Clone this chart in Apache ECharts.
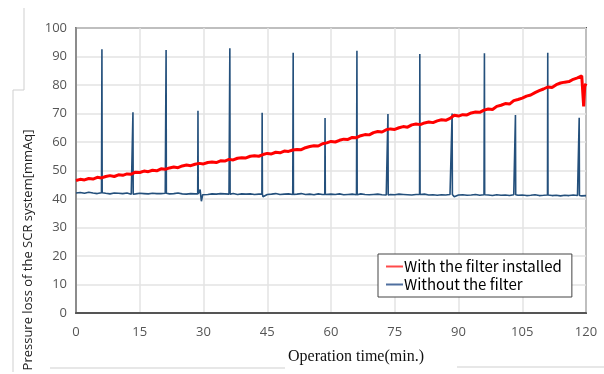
<!DOCTYPE html>
<html>
<head>
<meta charset="utf-8">
<script src="https://cdn.jsdelivr.net/npm/echarts@6/dist/echarts.min.js"></script>
<style>
  html, body { margin: 0; padding: 0; background: #fff; }
  #chart { width: 604px; height: 374px; }
</style>
</head>
<body>
<div id="chart"></div>
<script>
  // x轴刻度 (min.)
  const xTicks = [0, 15, 30, 45, 60, 75, 90, 105, 120]
  const seriesNames = ['With the filter installed', 'Without the filter']

  // 有过滤器: 每分钟一个读数 (0..119)
  const redValues = [
    46.5, 46.9, 46.7, 47.2, 47.0, 47.6, 47.4, 47.9, 48.2, 47.9,
    48.5, 48.3, 48.8, 48.7, 49.4, 49.3, 49.8, 49.6, 50.1, 49.9,
    50.6, 50.4, 50.9, 51.2, 51.0, 51.6, 51.9, 51.7, 52.2, 52.5,
    52.3, 52.8, 53.0, 52.8, 53.4, 53.3, 53.9, 53.7, 54.3, 54.5,
    54.4, 55.0, 55.2, 55.0, 55.6, 56.0, 55.8, 56.4, 56.2, 56.8,
    56.7, 57.2, 57.4, 57.3, 58.0, 58.4, 58.7, 58.6, 59.4, 59.7,
    60.2, 60.0, 60.6, 61.0, 60.9, 61.6, 61.5, 62.2, 62.6, 62.5,
    63.3, 63.7, 63.5, 64.3, 64.6, 64.4, 65.0, 65.4, 65.2, 66.0,
    66.3, 66.1, 66.7, 67.0, 66.8, 67.4, 67.8, 67.6, 68.3, 69.4,
    69.1, 69.6, 69.5, 70.2, 70.5, 70.4, 71.2, 71.6, 71.4, 72.5,
    72.9, 73.5, 73.3, 74.5, 74.9, 75.4, 76.1, 76.5, 77.3, 78.0,
    78.6, 79.3, 79.1, 80.1, 80.7, 81.0, 81.2, 82.0, 82.5, 83.2
  ]
  // 末尾的下跌
  const redTailTimes = [119.3, 119.45, 119.7, 120]
  const redTailValues = [83.0, 72.5, 79.5, 80.5]

  // 无过滤器: 每分钟基线 (0..120)
  const blueBase = [
    42.1, 42.3, 42.0, 42.4, 42.1, 41.9, 42.2, 42.0, 41.8, 42.1,
    42.0, 41.9, 42.1, 41.7, 41.8, 42.0, 41.9, 41.8, 42.0, 41.9,
    41.9, 42.0, 41.8, 41.9, 42.1, 41.8, 41.7, 41.9, 41.8, 41.9,
    41.7, 41.6, 41.8, 41.7, 41.9, 41.8, 41.7, 41.9, 41.6, 41.8,
    41.7, 41.8, 41.6, 41.7, 40.8, 41.6, 41.7, 41.9, 41.6, 41.7,
    41.8, 41.6, 41.7, 41.9, 41.6, 41.7, 41.5, 41.8, 41.6, 41.5,
    41.7, 41.6, 41.8, 41.5, 41.6, 41.7, 41.5, 41.8, 41.6, 41.5,
    41.6, 41.7, 41.5, 41.4, 41.6, 41.5, 41.7, 41.6, 41.5, 41.4,
    41.6, 41.5, 41.7, 41.4, 41.5, 41.3, 41.5, 41.4, 41.6, 40.8,
    41.4, 41.5, 41.3, 41.4, 41.6, 41.3, 41.5, 41.4, 41.2, 41.5,
    41.3, 41.4, 41.2, 41.5, 41.3, 41.4, 41.2, 41.3, 41.5, 41.2,
    41.3, 41.4, 41.2, 41.3, 41.1, 41.3, 41.2, 41.4, 41.2, 41.1,
    41.2
  ]
  // 30分附近的波动
  const blueDipTimes = [29.2, 29.5, 29.8]
  const blueDipValues = [43.3, 39.2, 41.5]
  // 尖峰
  const spikeTimes = [6.1, 13.4, 21.2, 28.7, 36.2, 43.8, 51.1, 58.6, 66.1, 73.4, 80.9, 88.5, 96.1, 103.4, 111.0, 118.4]
  const spikeValues = [92.5, 70.4, 92.3, 71.0, 92.9, 70.3, 91.3, 68.4, 92.0, 69.8, 90.9, 70.0, 91.1, 69.5, 91.3, 68.5]

  /** 拼接数据 */
  const buildRed = () => {
    const data = redValues.map((v, i) => [i, v])
    redTailTimes.forEach((t, i) => data.push([t, redTailValues[i]]))
    return data
  }

  const buildBlue = () => {
    const data = blueBase.map((v, i) => [i, v])
    blueDipTimes.forEach((t, i) => data.push([t, blueDipValues[i]]))
    spikeTimes.forEach((t, i) => {
      const base = blueBase[Math.floor(t)]
      data.push([t - 0.06, base])
      data.push([t, spikeValues[i]])
      data.push([t + 0.06, base])
    })
    data.sort((a, b) => a[0] - b[0])
    return data
  }

  const chartDom = echarts.init(document.getElementById('chart'))
  const labelFont = '"Open Sans", "Liberation Sans", sans-serif'
  const frame = '#cfcfcf'

  chartDom.setOption({
    animation: false,
    grid: {
      left: 76,
      right: 18,
      top: 28,
      bottom: 61,
      show: true,
      borderColor: '#555',
      borderWidth: 2
    },
    legend: {
      data: seriesNames,
      orient: 'vertical',
      left: 378,
      top: 254,
      backgroundColor: '#fff',
      borderColor: '#444',
      borderWidth: 1,
      padding: [5, 10, 5, 8],
      itemGap: 3,
      itemWidth: 17,
      itemHeight: 2,
      icon: 'rect',
      textStyle: {
        fontFamily: '"Noto Sans CJK JP", sans-serif',
        fontSize: 15,
        color: '#000',
        padding: [0, 0, 0, -4]
      }
    },
    xAxis: {
      type: 'value',
      min: 0,
      max: 120,
      interval: 15,
      axisLine: { show: true, lineStyle: { color: '#555', width: 2 } },
      axisTick: { show: false },
      splitLine: { show: true, lineStyle: { color: '#e3e3e3', width: 1.5 } },
      axisLabel: {
        margin: 13,
        fontSize: 13,
        color: '#555',
        fontFamily: labelFont,
        formatter: (v) => (xTicks.includes(v) ? String(v) : '')
      }
    },
    yAxis: {
      type: 'value',
      min: 0,
      max: 100,
      interval: 10,
      axisLine: { show: true, lineStyle: { color: '#8c8c8c', width: 2 } },
      axisTick: { show: false },
      splitLine: { show: true, lineStyle: { color: '#e3e3e3', width: 1.5 } },
      axisLabel: {
        margin: 9,
        fontSize: 13,
        color: '#555',
        fontFamily: labelFont
      }
    },
    graphic: [
      {
        type: 'text',
        x: 28,
        y: 250,
        rotation: Math.PI / 2,
        style: {
          text: 'Pressure loss of the SCR system[mmAq]',
          fontFamily: labelFont,
          fontSize: 13,
          fill: '#222',
          textAlign: 'center',
          textVerticalAlign: 'middle'
        }
      },
      {
        type: 'text',
        x: 356,
        y: 357,
        style: {
          text: 'Operation time(min.)',
          fontFamily: '"Liberation Serif", serif',
          fontSize: 16,
          fill: '#111',
          textAlign: 'center',
          textVerticalAlign: 'middle'
        }
      },
      {
        type: 'polyline',
        shape: { points: [[24, 8], [24, 90], [13, 90], [13, 372]] },
        style: { stroke: frame, lineWidth: 1, fill: null }
      },
      {
        type: 'line',
        shape: { x1: 50, y1: 368, x2: 285, y2: 368 },
        style: { stroke: frame, lineWidth: 1 }
      },
      {
        type: 'line',
        shape: { x1: 457, y1: 367, x2: 604, y2: 367 },
        style: { stroke: frame, lineWidth: 1 }
      }
    ],
    series: [
      {
        name: seriesNames[1],
        type: 'line',
        data: buildBlue(),
        showSymbol: false,
        color: '#4f6f9f',
        lineStyle: { color: '#24507c', width: 1.6 },
        z: 2
      },
      {
        name: seriesNames[0],
        type: 'line',
        data: buildRed(),
        showSymbol: false,
        color: '#ff4a4a',
        lineStyle: { color: '#ff0000', width: 3 },
        z: 3
      }
    ]
  })
</script>
</body>
</html>
